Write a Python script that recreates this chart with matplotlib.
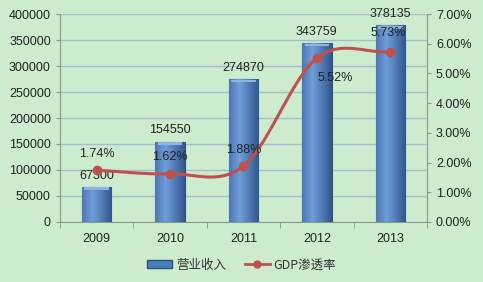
import numpy as np
import matplotlib
matplotlib.use("Agg")
import matplotlib.pyplot as plt
from matplotlib.patches import Rectangle
from matplotlib.lines import Line2D
from matplotlib.colors import LinearSegmentedColormap

plt.rcParams['font.family'] = ['Liberation Sans', 'Noto Sans CJK SC', 'DejaVu Sans']

years = ['2009', '2010', '2011', '2012', '2013']
revenue = [67300, 154550, 274870, 343759, 378135]
gdp_rate = [1.74, 1.62, 1.88, 5.52, 5.73]
rev_labels = ['67300', '154550', '274870', '343759', '378135']
rate_labels = ['1.74%', '1.62%', '1.88%', '5.52%', '5.73%']

bg = '#cdeccd'
fig = plt.figure(figsize=(4.83, 2.82), dpi=100, facecolor=bg)
ax = fig.add_axes([0.124, 0.213, 0.760, 0.737])
ax.set_facecolor(bg)
ax2 = ax.twinx()

x = np.arange(len(years))
w = 0.40
bars = ax.bar(x, revenue, width=w, color='#4a7ebb', edgecolor='#2c5282', linewidth=0.8, zorder=3)
grad = np.linspace(0, 1, 64)
shade = 1 - 0.9 * np.abs(grad - 0.35) / 0.65
cmap = LinearSegmentedColormap.from_list('b', ['#2a4f86', '#6f9edb'])
for b in bars:
    x0, y0 = b.get_x(), b.get_y()
    bw, bh = b.get_width(), b.get_height()
    im = ax.imshow(shade[None, :], extent=[x0, x0 + bw, y0, y0 + bh], aspect='auto',
                   cmap=cmap, vmin=0, vmax=1, zorder=3.5)
    im.set_clip_path(b)
    ax.add_patch(Rectangle((x0 + bw * 0.08, y0 + bh - 6000), bw * 0.84, 5000,
                           color='#8fb4e3', zorder=3.6, lw=0))

for xi, v, lab in zip(x, revenue, rev_labels):
    ax.text(xi, v + 22000, lab, ha='center', va='center', fontsize=9, color='#222222', zorder=6)

ax.set_xlim(-0.5, 4.5)
ax.set_ylim(0, 400000)
ax.set_yticks(np.arange(0, 400001, 50000))
ax.set_xticks(x)
ax.set_xticklabels(years)
ax.grid(axis='y', color='#a3bdd3', linewidth=1.0, zorder=0)
ax.set_axisbelow(True)
for s in ['top', 'right']:
    ax.spines[s].set_visible(False)
ax.spines['left'].set_color('#8a9a8a')
ax.spines['bottom'].set_color('#8a9a8a')
ax.tick_params(axis='both', labelsize=9, colors='#222222', length=3)
ax.tick_params(axis='y', color='#8a9a8a')
ax.tick_params(axis='x', pad=8)
ax.set_xticks(np.arange(-0.5, 5, 1), minor=True)
ax.tick_params(axis='x', which='major', length=0)
ax.tick_params(axis='x', which='minor', length=4, color='#8a9a8a')

# smooth line (Catmull-Rom through data points)
pts = np.column_stack([x, gdp_rate]).astype(float)
ext = np.vstack([pts[0] * 2 - pts[1], pts, pts[-1] * 2 - pts[-2]])
cx, cy = [], []
tt = np.linspace(0, 1, 30)
for i in range(1, len(ext) - 2):
    p0, p1, p2, p3 = ext[i - 1], ext[i], ext[i + 1], ext[i + 2]
    for t in tt:
        c = 0.5 * ((2 * p1) + (-p0 + p2) * t + (2 * p0 - 5 * p1 + 4 * p2 - p3) * t ** 2
                   + (-p0 + 3 * p1 - 3 * p2 + p3) * t ** 3)
        cx.append(c[0]); cy.append(c[1])
ax2.plot(cx, cy, color='#c0504d', linewidth=2.2, zorder=4)
ax2.plot(x, gdp_rate, 'o', color='#c0504d', markersize=6, zorder=5)
ax2.set_ylim(0, 7)
ax2.set_yticks(np.arange(0, 7.01, 1))
ax2.set_yticklabels([f'{v:.2f}%' for v in np.arange(0, 7.01, 1)])
ax2.tick_params(axis='y', labelsize=9, colors='#222222', length=3)
ax2.tick_params(axis='y', color='#8a9a8a')
for s in ['top', 'left', 'bottom']:
    ax2.spines[s].set_visible(False)
ax2.spines['right'].set_color('#8a9a8a')

offs = [(0, 0.55), (0, 0.57), (0, 0.54), (0.25, -0.67), (-0.03, 0.64)]
for xi, v, lab, (dx, dy) in zip(x, gdp_rate, rate_labels, offs):
    ax2.text(xi + dx, v + dy, lab, ha='center', va='center', fontsize=9, color='#222222', zorder=6)

h1 = Rectangle((0, 0), 1, 1, facecolor='#4a7ebb', edgecolor='#2c5282')
h2 = Line2D([], [], color='#c0504d', marker='o', markersize=5, linewidth=2)
leg = fig.legend([h1, h2], ['营业收入', 'GDP渗透率'], loc='center', bbox_to_anchor=(0.5, 0.06),
                 ncol=2, frameon=False, handlelength=2.0, handleheight=0.6, handletextpad=0.3,
                 columnspacing=1.5,
                 prop={'family': ['Noto Sans CJK SC', 'DejaVu Sans'], 'size': 9})
for t in leg.get_texts():
    t.set_color('#333333')

fig.savefig('out.png', dpi=100, facecolor=bg)
